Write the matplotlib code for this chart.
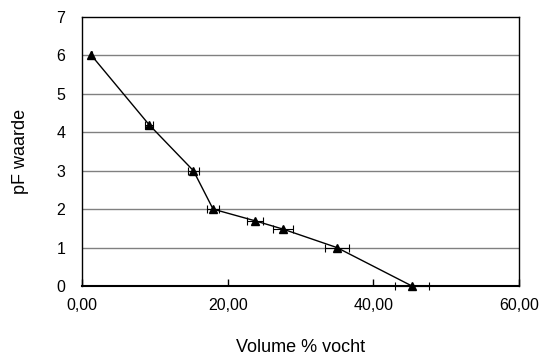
import numpy as np
import matplotlib.pyplot as plt
from matplotlib.ticker import FuncFormatter

# pF-curve: volume % moisture vs pF value
vocht = [1.3, 9.2, 15.3, 18.0, 23.7, 27.6, 35.0, 45.3]
pf = [6.0, 4.2, 3.0, 2.0, 1.7, 1.48, 1.0, 0.0]
vocht_err = [0.1, 0.5, 0.7, 0.8, 1.1, 1.4, 1.7, 2.3]

xticks = [0, 20, 40, 60]
yticks = [0, 1, 2, 3, 4, 5, 6, 7]

plt.rcParams['font.family'] = ['Liberation Sans', 'DejaVu Sans']

fig = plt.figure(figsize=(5.48, 3.63), dpi=100)
ax = fig.add_axes([82 / 548, 1 - 286 / 363, (519 - 82) / 548, (286 - 17) / 363])

for y in yticks[1:-1]:
    ax.axhline(y, color='#808080', linewidth=1, zorder=1)

ax.errorbar(vocht, pf, xerr=vocht_err, color='black', linewidth=1,
            marker='^', markersize=6, capsize=3, elinewidth=0.8,
            capthick=0.8, zorder=3, clip_on=False)

ax.set_xlim(0, 60)
ax.set_ylim(0, 7)
ax.set_xticks(xticks)
ax.set_yticks(yticks)
ax.xaxis.set_major_formatter(FuncFormatter(lambda v, p: ('%.2f' % v).replace('.', ',')))
ax.tick_params(axis='x', direction='in', length=5, width=1, labelsize=11.5, pad=9)
ax.tick_params(axis='y', length=0, labelsize=11.5, pad=12)
for s in ax.spines.values():
    s.set_linewidth(1)
ax.spines['bottom'].set_linewidth(1.5)

ax.set_xlabel('Volume % vocht', fontsize=13, labelpad=18)
ax.set_ylabel('pF waarde', fontsize=13, labelpad=20)

fig.savefig('out.png', dpi=100)
